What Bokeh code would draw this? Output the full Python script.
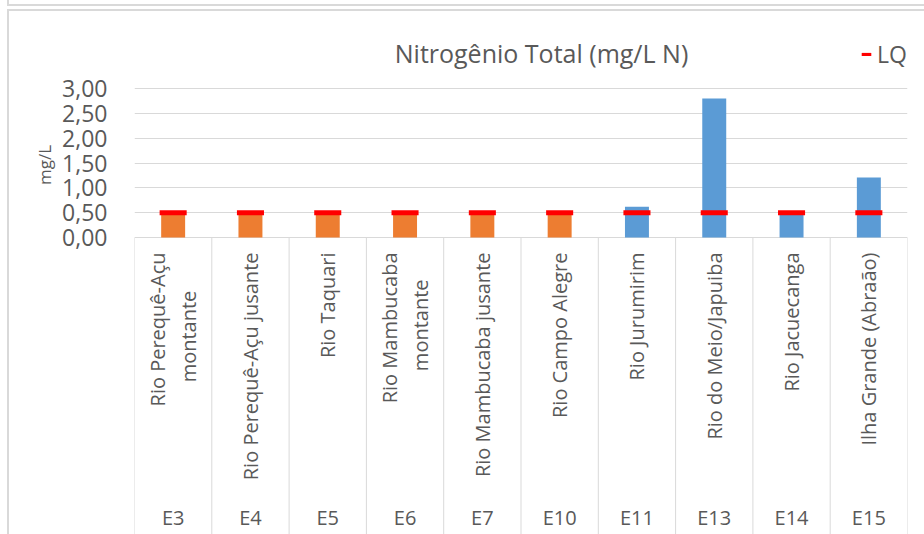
import numpy as np
from bokeh.plotting import figure
from bokeh.models import (Range1d, FixedTicker, CustomJSTickFormatter, ColumnDataSource,
                          Legend, LegendItem, Label, Title)
from bokeh.embed import file_html
from bokeh.resources import INLINE
from bokeh.core.properties import value

# ---------------- data ----------------
stations = ["E3", "E4", "E5", "E6", "E7", "E10", "E11", "E13", "E14", "E15"]
names = ["Rio Perequê-Açu\nmontante", "Rio Perequê-Açu jusante", "Rio Taquari",
         "Rio Mambucaba\nmontante", "Rio Mambucaba jusante", "Rio Campo Alegre",
         "Rio Jurumirim", "Rio do Meio/Japuiba", "Rio Jacuecanga", "Ilha Grande (Abraão)"]
values = [0.50, 0.50, 0.50, 0.50, 0.50, 0.50, 0.62, 2.80, 0.50, 1.21]
below_lq = [True, True, True, True, True, True, False, False, False, False]
lq = [0.50, 0.50, 0.50, 0.50, 0.50, 0.50, 0.50, 0.50, 0.50, 0.50]
y_ticks = [0.0, 0.5, 1.0, 1.5, 2.0, 2.5, 3.0]
title_text = "Nitrogênio Total (mg/L N)"
y_label = "mg/L"
legend_label = "LQ"

# ---------------- layout / style ----------------
FONT = "Open Sans"
TXT = "#595959"
GRID = "#D9D9D9"
ORANGE = "#ED7D31"
BLUE = "#5B9BD5"
RED = "#FF0000"

W, H = 924, 534
BL, BR = 134, 17         # left / right borders -> frame
ZERO_Y = 237             # canvas y of value 0
PY = 149.0 / 3.0         # px per unit (y)
n = len(stations)
PX = (W - BL - BR) / n   # px per category
y_end = ZERO_Y / PY
y_start = -(H - ZERO_Y) / PY

p = figure(width=W, height=H, x_range=Range1d(0, n), y_range=Range1d(y_start, y_end),
           output_backend="svg", toolbar_location=None, x_axis_location=None,
           min_border_left=BL, min_border_right=BR, min_border_top=0, min_border_bottom=0)
p.outline_line_color = None
p.background_fill_alpha = 0
p.border_fill_alpha = 0
g = "linear-gradient(#D9D9D9,#D9D9D9)"
p.styles = {
    "background-color": "white",
    "background-image": ", ".join([g, g, g, g]),
    "background-position": "7px 9px, 7px 9px, 7px 4px, 7px 0px",
    "background-size": "2px 100%, 100% 2px, 100% 2px, 2px 6px",
    "background-repeat": "no-repeat",
}

# y axis
yax = p.yaxis[0]
yax.ticker = FixedTicker(ticks=y_ticks)
yax.formatter = CustomJSTickFormatter(code="return tick.toFixed(2).replace('.', ',');")
yax.axis_line_color = None
yax.major_tick_line_color = None
yax.minor_tick_line_color = None
yax.major_label_text_font = FONT
yax.major_label_text_font_size = "23px"
yax.major_label_text_color = TXT
yax.major_label_standoff = 21

# y axis title, placed so that it is centred on the value range
val_mid = ZERO_Y - (y_ticks[-1] - y_ticks[0]) / 2.0 * PY
p.add_layout(Title(text=y_label, align="left", offset=H - (val_mid + 22),
                   text_font=FONT, text_font_size="17px", text_font_style="normal",
                   text_color=TXT, standoff=8), "left")

p.xgrid.visible = False
p.ygrid.ticker = FixedTicker(ticks=y_ticks)
p.ygrid.grid_line_color = GRID
p.ygrid.grid_line_width = 1

# category separators
sep_x = list(range(n + 1))
p.segment(x0=sep_x, y0=[0] * (n + 1), x1=sep_x, y1=[y_start] * (n + 1),
          line_color=GRID, line_width=1)

# bars
xc = [i + 0.5 for i in range(n)]
src = ColumnDataSource(dict(x=xc, top=values,
                            color=[ORANGE if b else BLUE for b in below_lq]))
p.vbar(x="x", top="top", bottom=0, width=0.31, source=src,
       fill_color="color", line_color=None)

# LQ markers
r_lq = p.rect(x=xc, y=lq, width=0.35, height=5, height_units="screen",
              fill_color=RED, line_color=None)

# category names (rotated)
ra_x, ra_y, ra_t = [], [], []
ce_x, ce_y, ce_t = [], [], []
LINE_GAP = 31.0
TOP_PAD = 15.0
for i, nm in enumerate(names):
    lines = nm.split("\n")
    k = len(lines)
    for j, ln in enumerate(lines):
        xo = (j - (k - 1) / 2.0) * LINE_GAP / PX
        if j == 0:
            ra_x.append(xc[i] + xo); ra_y.append(-TOP_PAD / PY); ra_t.append(ln)
        else:
            ce_x.append(xc[i] + xo)
            ce_y.append(-(TOP_PAD + 5.6 * len(lines[0])) / PY)
            ce_t.append(ln)

common = dict(angle=np.pi / 2, text_baseline="middle", text_color=TXT,
              text_font=value(FONT), text_font_size="20px")
p.text(x=ra_x, y=ra_y, text=ra_t, text_align="right", **common)
p.text(x=ce_x, y=ce_y, text=ce_t, text_align="center", **common)

# station codes
p.text(x=xc, y=[-(517.0 - ZERO_Y) / PY] * n, text=stations, text_align="center",
       text_baseline="middle", text_color=TXT, text_font=value(FONT),
       text_font_size="20px")

# title
p.add_layout(Label(x=(541 - BL) / PX, y=(ZERO_Y - 52) / PY, text=title_text,
                   text_align="center", text_baseline="middle",
                   text_font=FONT, text_font_size="25px", text_color=TXT))

# legend
legend = Legend(items=[LegendItem(label=legend_label, renderers=[r_lq])],
                location=(726, 464), padding=0, margin=0, spacing=0,
                glyph_width=12, glyph_height=4, label_standoff=5,
                label_text_font=FONT, label_text_font_size="23px",
                label_text_color=TXT, border_line_color=None,
                background_fill_alpha=0)
p.add_layout(legend)

open("out.html", "w").write(file_html(p, INLINE))
